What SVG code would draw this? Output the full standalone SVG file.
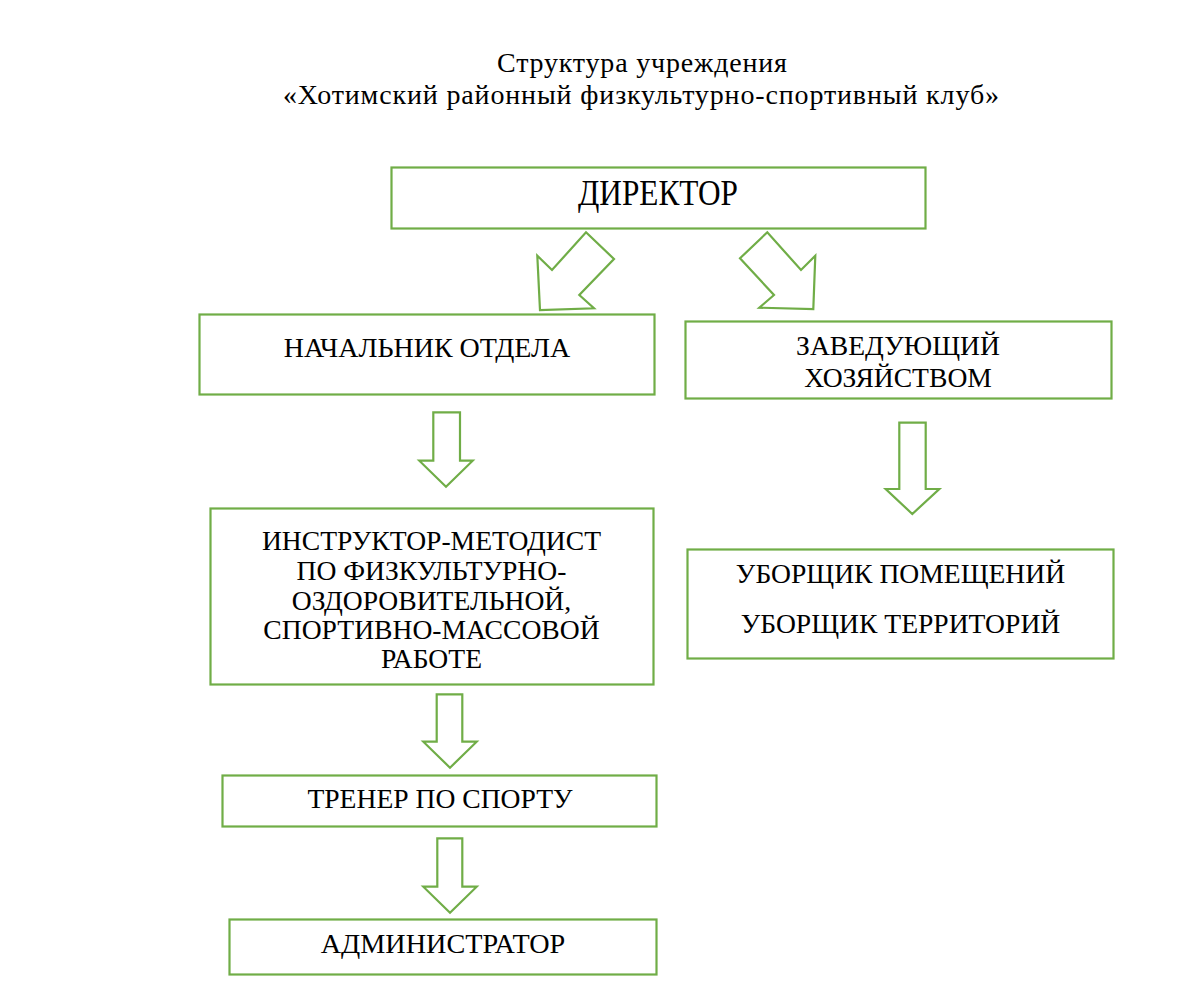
<svg xmlns="http://www.w3.org/2000/svg" width="1200" height="1003" viewBox="0 0 1200 1003">
<style>
.box{fill:#fff;stroke:#70AD47;stroke-width:2.2}
.arr{fill:#fff;stroke:#70AD47;stroke-width:2.2;stroke-linejoin:miter}
text{font-family:"Liberation Serif","Times New Roman",serif;fill:#000;text-anchor:middle}
.t{font-size:27.6px}
.title{font-size:28px}
</style>
<rect width="1200" height="1003" fill="#fff"/>
<g id="title">
<text class="title" x="642" y="72" textLength="290" lengthAdjust="spacing">Структура учреждения</text>
<text class="title" x="641" y="104" textLength="716" lengthAdjust="spacing">«Хотимский районный физкультурно-спортивный клуб»</text>
</g>
<g id="connectors">
<polygon class="arr" points="586,232.3 614,259 579.3,295 594,308.3 540,310 537.3,255.7 552,270"/>
<polygon class="arr" points="767.3,232.3 740,258.3 774,295 759.3,307.7 813.3,309 815.3,255.7 801,270"/>
<polygon class="arr" points="433.3,412.3 460,412.3 460,460.7 472.7,460.7 446,486.7 419.3,460.7 433.3,460.7"/>
<polygon class="arr" points="899.3,422.7 925.7,422.7 925.7,489 939.3,489 912.3,514 885.7,489 899.3,489"/>
<polygon class="arr" points="436.7,694.3 462.3,694.3 462.3,741.7 476.7,741.7 450,767.7 423.3,741.7 436.7,741.7"/>
<polygon class="arr" points="437.3,838.3 462.3,838.3 462.3,886.7 476.7,886.7 450,912.7 423.3,886.7 437.3,886.7"/>
</g>
<g id="director">
<rect class="box" x="391.5" y="167.5" width="534" height="61"/>
<text x="658" y="205" style="font-size:36px" textLength="160" lengthAdjust="spacingAndGlyphs">ДИРЕКТОР</text>
</g>
<g id="head-dept">
<rect class="box" x="199.5" y="314.5" width="455" height="80"/>
<text class="t" x="427" y="357" style="font-size:28px">НАЧАЛЬНИК ОТДЕЛА</text>
</g>
<g id="household">
<rect class="box" x="685.5" y="321.5" width="426" height="77"/>
<text class="t" x="898" y="355">ЗАВЕДУЮЩИЙ</text>
<text class="t" x="898" y="387">ХОЗЯЙСТВОМ</text>
</g>
<g id="instructor">
<rect class="box" x="210.5" y="508.5" width="443" height="176"/>
<text class="t" x="431.5" y="550">ИНСТРУКТОР-МЕТОДИСТ</text>
<text class="t" x="431.5" y="580">ПО ФИЗКУЛЬТУРНО-</text>
<text class="t" x="431.5" y="610">ОЗДОРОВИТЕЛЬНОЙ,</text>
<text class="t" x="431.5" y="639">СПОРТИВНО-МАССОВОЙ</text>
<text class="t" x="431.5" y="668">РАБОТЕ</text>
</g>
<g id="cleaners">
<rect class="box" x="687.5" y="549.5" width="426" height="109"/>
<text class="t" x="900.5" y="583">УБОРЩИК ПОМЕЩЕНИЙ</text>
<text class="t" x="900.5" y="633">УБОРЩИК ТЕРРИТОРИЙ</text>
</g>
<g id="trainer">
<rect class="box" x="222.5" y="775.5" width="434" height="51"/>
<text class="t" x="440" y="808">ТРЕНЕР ПО СПОРТУ</text>
</g>
<g id="admin">
<rect class="box" x="229.5" y="919.5" width="427" height="55"/>
<text class="t" x="443" y="953" style="font-size:28.2px">АДМИНИСТРАТОР</text>
</g>
</svg>
